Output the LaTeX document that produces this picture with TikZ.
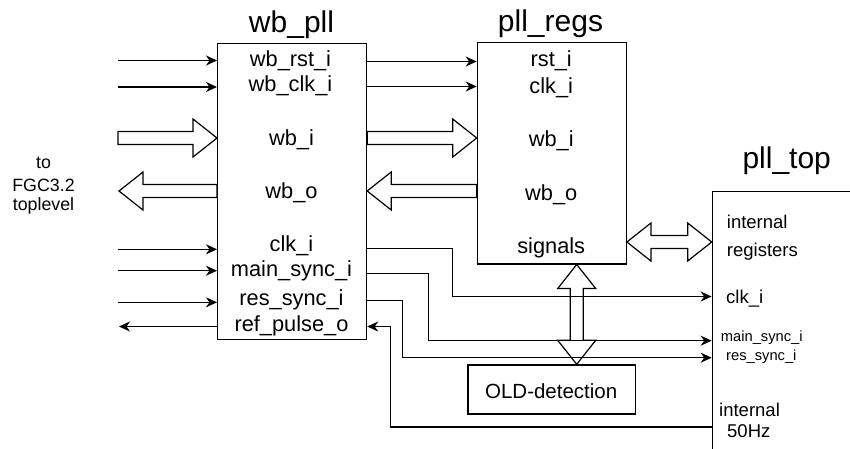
\documentclass[tikz,border=0pt]{standalone}
\usepackage{fontspec}
\setmainfont{Liberation Sans}
\usetikzlibrary{arrows.meta,calc}

\tikzset{
  wire/.style={line width=1.2pt, draw=black},
  sig/.style={wire, -{Stealth[length=11pt,width=10pt,inset=3.5pt]}},
  block/.style={draw, line width=1.2pt, fill=white, inner sep=0pt, anchor=north west},
  title/.style={font=\fontsize{30}{34}\selectfont, inner sep=0pt, anchor=base},
  port/.style={font=\fontsize{21.8}{24}\selectfont, inner sep=0pt, anchor=base},
  topport/.style={font=\fontsize{18.5}{21}\selectfont, inner sep=0pt, anchor=base west},
  smallport/.style={font=\fontsize{14.7}{17}\selectfont, inner sep=0pt, anchor=base west},
  side/.style={font=\fontsize{17.8}{20}\selectfont, inner sep=0pt, anchor=base},
  % hollow bus arrow with one head at the target end
  busarrow/.style={draw, line width=1.2pt, fill=white, to path={
    let \p1=(\tikztostart), \p2=(\tikztotarget),
        \p3=($(\p2)!24pt!(\p1)$) in
    ($(\p1)!6.5pt!90:(\p2)$) -- ($(\p3)!6.5pt!90:(\p2)$) -- ($(\p3)!19pt!90:(\p2)$)
    -- (\p2)
    -- ($(\p3)!19pt!-90:(\p2)$) -- ($(\p3)!6.5pt!-90:(\p2)$) -- ($(\p1)!6.5pt!-90:(\p2)$)
    -- cycle}},
  % hollow bus arrow with heads at both ends
  busboth/.style={draw, line width=1.2pt, fill=white, to path={
    let \p1=(\tikztostart), \p2=(\tikztotarget),
        \p3=($(\p2)!24pt!(\p1)$), \p4=($(\p1)!24pt!(\p2)$) in
    (\p1) -- ($(\p4)!19pt!90:(\p2)$) -- ($(\p4)!6.5pt!90:(\p2)$)
    -- ($(\p3)!6.5pt!90:(\p2)$) -- ($(\p3)!19pt!90:(\p2)$)
    -- (\p2)
    -- ($(\p3)!19pt!-90:(\p2)$) -- ($(\p3)!6.5pt!-90:(\p2)$)
    -- ($(\p4)!6.5pt!-90:(\p2)$) -- ($(\p4)!19pt!-90:(\p2)$)
    -- cycle}}
}

\begin{document}
\begin{tikzpicture}[x=1pt, y=-1pt]
\useasboundingbox (0,0) rectangle (850,448);

% blocks
\node[block, minimum width=149pt, minimum height=296.5pt] (wbpll) at (217,42.5) {};
\node[block, minimum width=149pt, minimum height=221.5pt] (pllregs) at (476.7,41.8) {};
\node[block, minimum width=200pt, minimum height=300pt] (pltop) at (711.7,190.5) {};
\node[block, minimum width=167.7pt, minimum height=49pt] (old) at (467.3,364.3) {};

% titles
\node[title] (twbpll) at (291.5,32.3) {wb\_pll};
\node[title] (tregs) at (550.5,31.7) {pll\_regs};
\node[title] (ttop) at (786.7,168.3) {pll\_top};

% wb_pll ports
\node[port] (lwbrst) at (290.5,66.7) {wb\_rst\_i};
\node[port] (lwbclk) at (290.5,91.7) {wb\_clk\_i};
\node[port] (lwbi) at (291.5,145) {wb\_i};
\node[port] (lwbo) at (291.5,198.3) {wb\_o};
\node[port] (lclk) at (291.5,251.7) {clk\_i};
\node[port] (lmain) at (291.5,276.7) {main\_sync\_i};
\node[port] (lres) at (291.5,305) {res\_sync\_i};
\node[port] (lref) at (291.5,331.7) {ref\_pulse\_o};

% pll_regs ports
\node[port] (rrst) at (551.2,66.7) {rst\_i};
\node[port] (rclk) at (551.2,93) {clk\_i};
\node[port] (rwbi) at (551.2,146.7) {wb\_i};
\node[port] (rwbo) at (551.2,200) {wb\_o};
\node[port] (rsig) at (551.2,253.3) {signals};

% pll_top ports
\node[topport] (tint) at (726.7,228.3) {internal};
\node[topport] (treg) at (726.7,256) {registers};
\node[topport] (tclk) at (726,303.3) {clk\_i};
\node[smallport] (tmain) at (720.7,341.7) {main\_sync\_i};
\node[smallport] (tres) at (726,360) {res\_sync\_i};
\node[topport] (tint2) at (719,416.7) {internal};
\node[topport] (t50) at (727,437.3) {50Hz};

% OLD detection label
\node[font=\fontsize{20.5}{23}\selectfont, inner sep=0pt, anchor=base] (lold) at (551.2,398.3) {OLD-detection};

% outside-world label
\node[side] (s1) at (43.5,168.3) {to};
\node[side] (s2) at (43.5,191.7) {FGC3.2};
\node[side] (s3) at (43.5,210.7) {toplevel};

% free ends on the left
\coordinate (inRst) at (118,60.5);
\coordinate (inClkWb) at (118,87);
\coordinate (inWbi) at (118,138);
\coordinate (outWbo) at (119,191);
\coordinate (inClk) at (118,249.3);
\coordinate (inMain) at (118,270.7);
\coordinate (inRes) at (118,302.3);
\coordinate (outRef) at (119,326.5);

% levels between wb_pll and pll_regs
\coordinate (yRst) at (0,61.5);
\coordinate (yClk) at (0,86.5);
\coordinate (yWbo) at (0,191);
\coordinate (yBus) at (0,242);
\coordinate (xSig) at (576.7,0);

% bends of the routed lines
\coordinate (cA) at (452.7,248.5);
\coordinate (cB) at (452.7,296.5);
\coordinate (mA) at (428.3,273.3);
\coordinate (mB) at (428.3,340.7);
\coordinate (sA) at (402.7,300.7);
\coordinate (sB) at (402.7,357.7);
\coordinate (fA) at (390.7,427);
\coordinate (fB) at (390.7,326.5);

% bus arrows
\draw[busarrow] (inWbi) to (inWbi -| wbpll.west);
\draw[busarrow] (wbpll.west |- outWbo) to (outWbo);
\draw[busarrow] (wbpll.east |- inWbi) to (pllregs.west |- inWbi);
\draw[busarrow] (pllregs.west |- yWbo) to (wbpll.east |- yWbo);
\draw[busboth] (pllregs.east |- yBus) to (pltop.west |- yBus);
\draw[busboth] (pllregs.south -| xSig) to (old.north -| xSig);

% single signals on the left
\draw[sig] (inRst) -- (inRst -| wbpll.west);
\draw[sig] (inClkWb) -- (inClkWb -| wbpll.west);
\draw[sig] (inClk) -- (inClk -| wbpll.west);
\draw[sig] (inMain) -- (inMain -| wbpll.west);
\draw[sig] (inRes) -- (inRes -| wbpll.west);
\draw[sig] (wbpll.west |- outRef) -- (outRef);

% wishbone reset and clock to the registers
\draw[sig] (wbpll.east |- yRst) -- (pllregs.west |- yRst);
\draw[sig] (wbpll.east |- yClk) -- (pllregs.west |- yClk);

% routed signals to pll_top
\draw[sig] (wbpll.east |- cA) -- (cA) -- (cB) -- (cB -| pltop.west);
\draw[sig] (wbpll.east |- mA) -- (mA) -- (mB) -- (mB -| pltop.west);
\draw[sig] (wbpll.east |- sA) -- (sA) -- (sB) -- (sB -| pltop.west);
\draw[sig] (pltop.west |- fA) -- (fA) -- (fB) -- (fB -| wbpll.east);
\end{tikzpicture}
\end{document}
